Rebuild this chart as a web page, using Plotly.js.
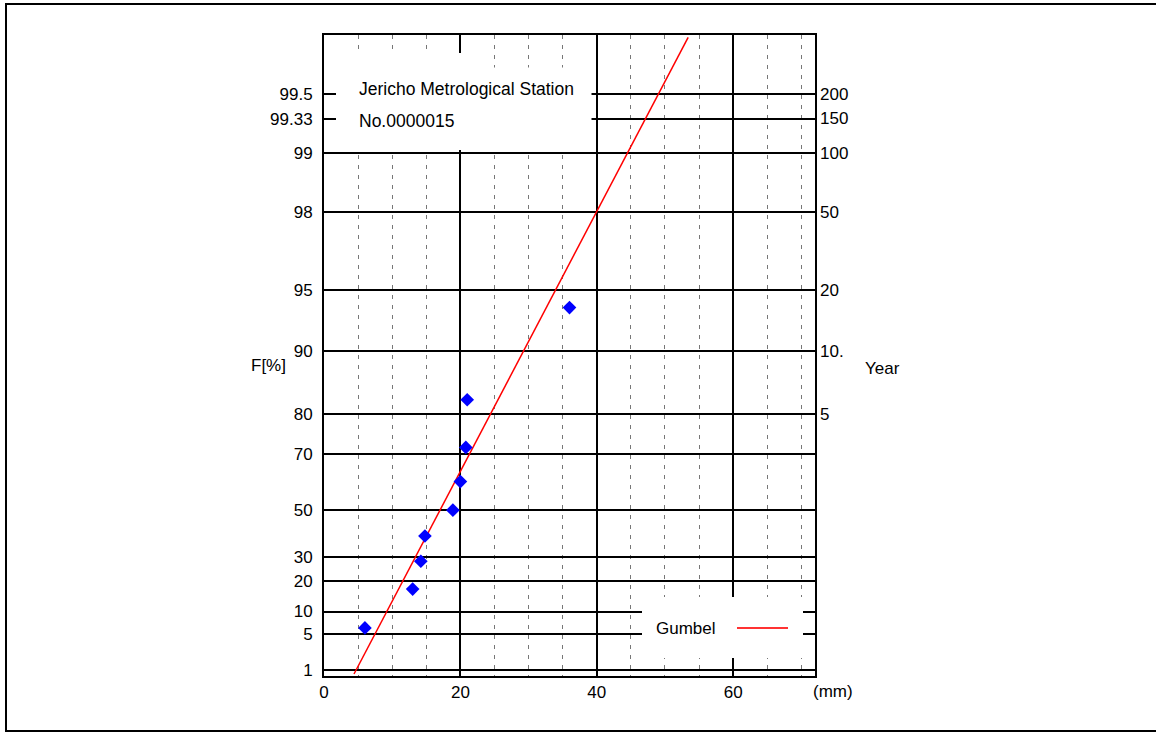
<!DOCTYPE html>
<html><head><meta charset="utf-8">
<script src="https://cdn.plot.ly/plotly-3.0.1.min.js"></script>
<style>html,body{margin:0;padding:0;background:#fff;}#chart{width:1156px;height:733px;}</style>
</head><body><div id="chart"></div>
<script>
// ---- data ----
const rainfallMm   = [6.0, 13.0, 14.2, 14.8, 18.9, 20.0, 20.8, 21.0, 36.0];
const plotPosPct   = [6.1, 17.1, 28.1, 39.0, 50.0, 61.0, 71.9, 82.9, 93.9];
const gumbelLineMm  = [4.4, 17.0, 44.6, 53.4];
const gumbelLinePct = [0.8, 50, 99, 99.744];
const fTickPct    = [1, 5, 10, 20, 30, 50, 70, 80, 90, 95, 98, 99, 99.33, 99.5];
const fTickLabels = ['1','5','10','20','30','50','70','80','90','95','98','99','99.33','99.5'];
const returnYears  = [5, 10, 20, 50, 100, 150, 200];
const returnLabels = ['5','10.','20','50','100','150','200'];
const xTickVals   = [0, 20, 40, 60];
const xTickLabels = ['0','20','40','60'];

// Gumbel probability scale: reduced variate
const redVar = p => -Math.log(-Math.log(p));
const uFromPct = v => redVar(v / 100);
const uFromYears = T => redVar(1 - 1 / T);

const FONT = '"Liberation Sans Narrow", "Arial Narrow", "Liberation Sans", Arial, sans-serif';
const yRange = [-1.598, 5.994];

const traces = [
  {
    x: gumbelLineMm, y: gumbelLinePct.map(uFromPct),
    type: 'scatter', mode: 'lines', name: 'Gumbel',
    line: {color: '#ff0000', width: 1.5}, showlegend: false, hoverinfo: 'skip'
  },
  {
    x: rainfallMm, y: plotPosPct.map(uFromPct),
    type: 'scatter', mode: 'markers', name: 'data',
    marker: {symbol: 'diamond', size: 10.5, color: '#0000ff'}, showlegend: false
  },
  {
    x: [null], y: [null], yaxis: 'y2', type: 'scatter', mode: 'markers',
    showlegend: false, hoverinfo: 'skip'
  }
];

const L = 324, R = 815, T = 35, B = 676, W = 1156, H = 733;
const px = v => (v - L) / (R - L);
const py = v => (B - v) / (B - T);

const layout = {
  width: W, height: H,
  margin: {l: L, r: W - R, t: T, b: H - B, pad: 0},
  paper_bgcolor: '#ffffff', plot_bgcolor: '#ffffff',
  font: {family: FONT, size: 17, color: '#000'},
  showlegend: false,
  xaxis: {
    range: [0, 72], tickvals: xTickVals, ticktext: xTickLabels,
    showgrid: true, gridcolor: '#000', gridwidth: 2,
    minor: {dtick: 5, tick0: 0, showgrid: true, gridcolor: '#777777', griddash: '4px,6px', gridwidth: 1},
    zeroline: false, showline: true, mirror: true, linecolor: '#000', linewidth: 2,
    ticks: '', tickfont: {family: FONT, size: 17}, fixedrange: true
  },
  yaxis: {
    range: yRange, tickvals: fTickPct.map(uFromPct), ticktext: fTickLabels,
    showgrid: true, gridcolor: '#000', gridwidth: 2,
    zeroline: false, showline: true, mirror: true, linecolor: '#000', linewidth: 2,
    ticks: '', ticklabelstandoff: 6, tickfont: {family: FONT, size: 17}, fixedrange: true
  },
  yaxis2: {
    overlaying: 'y', side: 'right', range: yRange,
    tickvals: returnYears.map(uFromYears), ticktext: returnLabels,
    showgrid: false, zeroline: false, showline: false,
    ticks: '', ticklabelstandoff: 4, tickfont: {family: FONT, size: 17}, fixedrange: true
  },
  shapes: [
    // title box (covers grid)
    {type: 'rect', xref: 'paper', yref: 'paper', layer: 'above',
     x0: px(336), x1: px(475), y0: py(150), y1: py(53), fillcolor: '#fff', line: {width: 0}},
    {type: 'rect', xref: 'paper', yref: 'paper', layer: 'above',
     x0: px(474), x1: px(591.5), y0: py(150), y1: py(67.5), fillcolor: '#fff', line: {width: 0}},
    // legend box
    {type: 'rect', xref: 'paper', yref: 'paper', layer: 'above',
     x0: px(642), x1: px(803), y0: py(658), y1: py(597), fillcolor: '#fff', line: {width: 0}},
    // legend glyph
    {type: 'line', xref: 'paper', yref: 'paper', layer: 'above',
     x0: px(737), x1: px(788), y0: py(628), y1: py(628), line: {color: '#ff3333', width: 2}},
    // outer frame (right edge lies outside the picture)
    {type: 'rect', xref: 'paper', yref: 'paper', layer: 'above',
     x0: px(6), x1: px(1200), y0: py(731), y1: py(4), line: {color: '#000', width: 2}, fillcolor: 'rgba(0,0,0,0)'}
  ],
  annotations: [
    {xref: 'paper', yref: 'paper', x: px(357), y: py(89), xanchor: 'left', yanchor: 'middle',
     text: 'Jericho Metrological Station', showarrow: false, font: {family: FONT, size: 17.5}},
    {xref: 'paper', yref: 'paper', x: px(357), y: py(121), xanchor: 'left', yanchor: 'middle',
     text: 'No.0000015', showarrow: false, font: {family: FONT, size: 17.5}},
    {xref: 'paper', yref: 'paper', x: px(654), y: py(628), xanchor: 'left', yanchor: 'middle',
     text: 'Gumbel', showarrow: false, font: {family: FONT, size: 17}},
    {xref: 'paper', yref: 'paper', x: px(268), y: py(365), xanchor: 'center', yanchor: 'middle',
     text: 'F[%]', showarrow: false, font: {family: FONT, size: 17}},
    {xref: 'paper', yref: 'paper', x: px(882), y: py(368), xanchor: 'center', yanchor: 'middle',
     text: 'Year', showarrow: false, font: {family: FONT, size: 17}},
    {xref: 'paper', yref: 'paper', x: px(833), y: py(692), xanchor: 'center', yanchor: 'middle',
     text: '(mm)', showarrow: false, font: {family: FONT, size: 17}}
  ]
};

Plotly.newPlot('chart', traces, layout, {displayModeBar: false, staticPlot: true});
</script>
</body></html>
